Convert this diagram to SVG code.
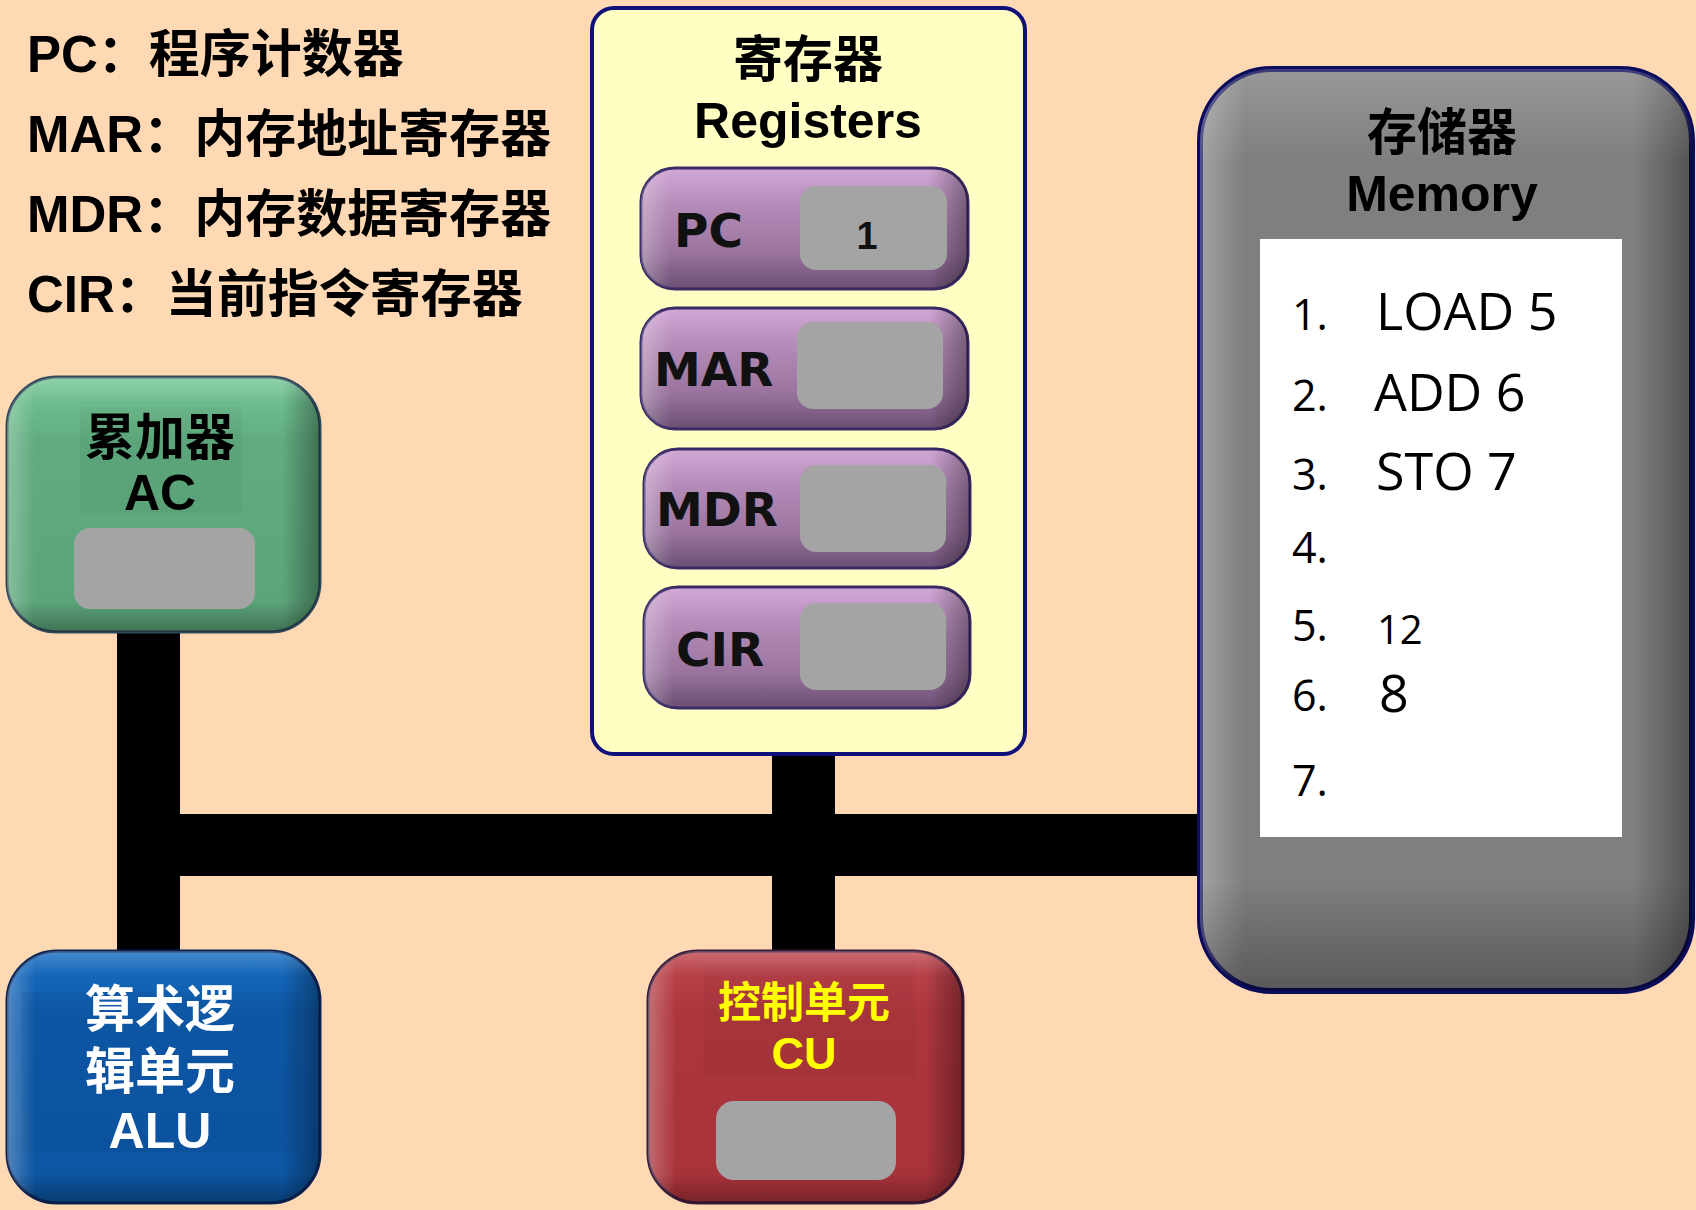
<svg xmlns="http://www.w3.org/2000/svg" width="1696" height="1210" viewBox="0 0 1696 1210">
<defs>
<style>
.leg{font-family:"Liberation Sans","Noto Sans CJK SC",sans-serif;font-weight:bold;font-size:51px;fill:#000}
.ttl{font-family:"Liberation Sans","Noto Sans CJK SC",sans-serif;font-weight:bold;font-size:50px;text-anchor:middle}
.reg{font-family:"DejaVu Sans",sans-serif;font-weight:bold;font-size:47px;fill:#111}
.mem{font-family:"Open Sans","DejaVu Sans",sans-serif;font-size:52px;fill:#000}
.num{font-family:"Open Sans","DejaVu Sans",sans-serif;font-size:43px;fill:#000}
.slot{fill:#A4A4A4}
.bus{fill:#000}
.back{fill:#000;fill-opacity:0.035}
</style>
<linearGradient id="shH" x1="0" y1="0" x2="1" y2="0">
<stop offset="0" stop-color="#fff" stop-opacity="0.28"/>
<stop offset="0.09" stop-color="#fff" stop-opacity="0"/>
<stop offset="0.88" stop-color="#000" stop-opacity="0"/>
<stop offset="1" stop-color="#000" stop-opacity="0.35"/>
</linearGradient>
<linearGradient id="shV" x1="0" y1="0" x2="0" y2="1">
<stop offset="0" stop-color="#fff" stop-opacity="0.2"/>
<stop offset="0.1" stop-color="#fff" stop-opacity="0"/>
<stop offset="0.88" stop-color="#000" stop-opacity="0"/>
<stop offset="1" stop-color="#000" stop-opacity="0.3"/>
</linearGradient>
<linearGradient id="pur" x1="0" y1="0" x2="0" y2="1">
<stop offset="0" stop-color="#D2A8D6"/>
<stop offset="0.3" stop-color="#B58CB9"/>
<stop offset="0.7" stop-color="#9A749F"/>
<stop offset="1" stop-color="#6A4E72"/>
</linearGradient>
<linearGradient id="grn" x1="0" y1="0" x2="0" y2="1">
<stop offset="0" stop-color="#76C797"/>
<stop offset="0.25" stop-color="#60AC7F"/>
<stop offset="1" stop-color="#5AA378"/>
</linearGradient>
<linearGradient id="blu" x1="0" y1="0" x2="0" y2="1">
<stop offset="0" stop-color="#186DC2"/>
<stop offset="0.25" stop-color="#0E5AAA"/>
<stop offset="1" stop-color="#0C55A2"/>
</linearGradient>
<linearGradient id="red" x1="0" y1="0" x2="0" y2="1">
<stop offset="0" stop-color="#BE464E"/>
<stop offset="0.25" stop-color="#AD363E"/>
<stop offset="1" stop-color="#A8323A"/>
</linearGradient>
</defs>
<rect x="0" y="0" width="1696" height="1210" fill="#FFD9B4"/>

<g id="legend">
<text class="leg" x="27" y="72">PC：程序计数器</text>
<text class="leg" x="27" y="152">MAR：内存地址寄存器</text>
<text class="leg" x="27" y="232">MDR：内存数据寄存器</text>
<text class="leg" x="27" y="312">CIR：当前指令寄存器</text>
</g>

<g id="connectors">
<rect class="bus" x="117" y="600" width="63" height="380"/>
<rect class="bus" x="117" y="814" width="1100" height="62"/>
<rect class="bus" x="772" y="740" width="63" height="240"/>
</g>

<g id="registers">
<rect x="592" y="8" width="433" height="746" rx="22" fill="#FFFFC4" stroke="#10107A" stroke-width="4"/>
<text class="ttl" x="808" y="77">寄存器</text>
<text class="ttl" x="808" y="138">Registers</text>
</g>

<g id="reg-pc">
<rect x="641" y="168" width="327" height="121" rx="34" fill="url(#pur)" stroke="#3A2A66" stroke-width="3"/>
<rect x="641" y="168" width="327" height="121" rx="34" fill="url(#shH)"/>
<rect class="slot" x="800" y="186" width="147" height="84" rx="16"/>
<text class="reg" x="674" y="247">PC</text>
<text x="867" y="249" font-family="Liberation Sans,sans-serif" font-weight="bold" font-size="38" text-anchor="middle" fill="#111">1</text>
</g>
<g id="reg-mar">
<rect x="641" y="308" width="327" height="121" rx="34" fill="url(#pur)" stroke="#3A2A66" stroke-width="3"/>
<rect x="641" y="308" width="327" height="121" rx="34" fill="url(#shH)"/>
<rect class="slot" x="797" y="322" width="146" height="87" rx="16"/>
<text class="reg" x="654" y="386">MAR</text>
</g>
<g id="reg-mdr">
<rect x="644" y="449" width="326" height="119" rx="34" fill="url(#pur)" stroke="#3A2A66" stroke-width="3"/>
<rect x="644" y="449" width="326" height="119" rx="34" fill="url(#shH)"/>
<rect class="slot" x="800" y="465" width="146" height="87" rx="16"/>
<text class="reg" x="656" y="526">MDR</text>
</g>
<g id="reg-cir">
<rect x="644" y="587" width="326" height="121" rx="34" fill="url(#pur)" stroke="#3A2A66" stroke-width="3"/>
<rect x="644" y="587" width="326" height="121" rx="34" fill="url(#shH)"/>
<rect class="slot" x="800" y="603" width="146" height="87" rx="16"/>
<text class="reg" x="676" y="666">CIR</text>
</g>

<g id="memory">
<rect x="1200" y="69" width="492" height="922" rx="72" fill="#7F7F7F" stroke="#0C0C5C" stroke-width="6"/>
<rect x="1200" y="69" width="492" height="922" rx="72" fill="url(#shH)"/>
<rect x="1200" y="69" width="492" height="922" rx="72" fill="url(#shV)"/>
<text class="ttl" x="1442" y="150">存储器</text>
<text class="ttl" x="1442" y="211">Memory</text>
<rect x="1260" y="239" width="362" height="598" fill="#FFFFFF"/>
<text class="num" x="1292" y="330">1.</text>
<text class="mem" x="1376" y="330">LOAD 5</text>
<text class="num" x="1292" y="411">2.</text>
<text class="mem" x="1374" y="411">ADD 6</text>
<text class="num" x="1292" y="490">3.</text>
<text class="mem" x="1376" y="490">STO 7</text>
<text class="num" x="1292" y="563">4.</text>
<text class="num" x="1292" y="641">5.</text>
<text class="mem" x="1377" y="644" style="font-size:40px">12</text>
<text class="num" x="1292" y="711">6.</text>
<text class="mem" x="1379" y="712">8</text>
<text class="num" x="1292" y="796">7.</text>
</g>

<g id="ac">
<rect x="7" y="377" width="313" height="255" rx="50" fill="url(#grn)" stroke="#2E4A5A" stroke-width="3"/>
<rect x="7" y="377" width="313" height="255" rx="50" fill="url(#shH)"/>
<rect x="7" y="377" width="313" height="255" rx="50" fill="url(#shV)"/>
<rect class="back" x="80" y="407" width="162" height="106"/>
<text class="ttl" x="160" y="455">累加器</text>
<text class="ttl" x="160" y="510">AC</text>
<rect class="slot" x="74" y="528" width="181" height="81" rx="16"/>
</g>

<g id="alu">
<rect x="7" y="951" width="313" height="252" rx="50" fill="url(#blu)" stroke="#0B2456" stroke-width="3"/>
<rect x="7" y="951" width="313" height="252" rx="50" fill="url(#shH)"/>
<rect x="7" y="951" width="313" height="252" rx="50" fill="url(#shV)"/>
<rect class="back" x="22" y="992" width="278" height="160"/>
<text class="ttl" x="160" y="1027" fill="#fff">算术逻</text>
<text class="ttl" x="160" y="1089" fill="#fff">辑单元</text>
<text class="ttl" x="160" y="1148" fill="#fff">ALU</text>
</g>

<g id="cu">
<rect x="648" y="951" width="315" height="252" rx="50" fill="url(#red)" stroke="#3B1B3B" stroke-width="3"/>
<rect x="648" y="951" width="315" height="252" rx="50" fill="url(#shH)"/>
<rect x="648" y="951" width="315" height="252" rx="50" fill="url(#shV)"/>
<rect class="back" x="703" y="965" width="212" height="112"/>
<text class="ttl" x="804" y="1018" fill="#FFFF00" style="font-size:43px">控制单元</text>
<text class="ttl" x="804" y="1069" fill="#FFFF00" style="font-size:45px">CU</text>
<rect class="slot" x="716" y="1101" width="180" height="79" rx="18"/>
</g>
</svg>
